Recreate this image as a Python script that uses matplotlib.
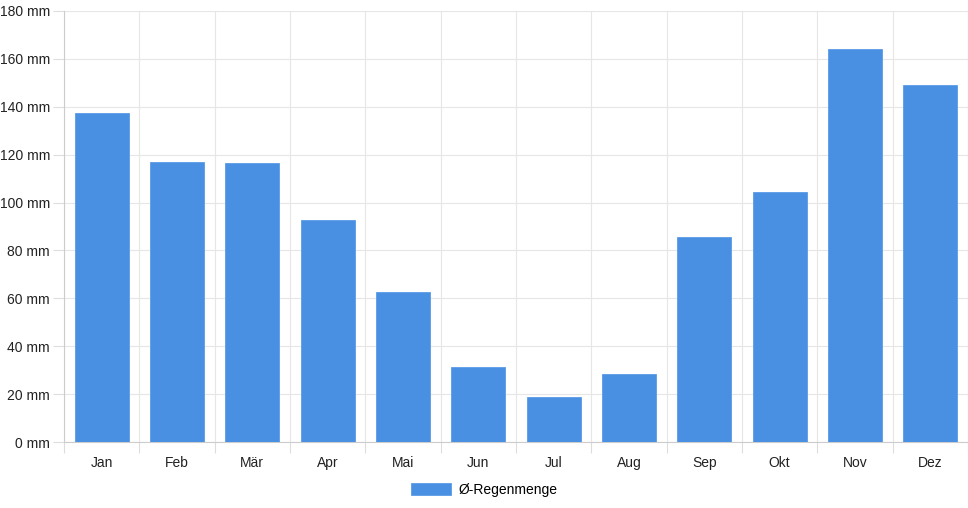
import matplotlib.pyplot as plt
import numpy as np
from matplotlib.ticker import FixedLocator

months = ["Jan", "Feb", "Mär", "Apr", "Mai", "Jun", "Jul", "Aug", "Sep", "Okt", "Nov", "Dez"]
rain_mm = [137.5, 117, 116.5, 92.7, 62.7, 31.2, 18.6, 28.5, 85.6, 104.5, 164.2, 149.1]
y_ticks = list(range(0, 181, 20))
series_label = "Ø-Regenmenge"

plt.rcParams["font.family"] = ["Liberation Sans", "DejaVu Sans"]

fig = plt.figure(figsize=(9.68, 5.08), dpi=100)
ax = fig.add_axes([64 / 968, 66 / 508, 904 / 968, 431 / 508])

x = np.arange(len(months))
ax.bar(x, rain_mm, width=0.72, color="#4a90e2", edgecolor="#5b9be6", linewidth=0.6,
       label=series_label, zorder=3)

ax.set_xlim(-0.5, len(months) - 0.5)
ax.set_ylim(0, 180)

ax.set_xticks(x)
ax.set_xticklabels(months, fontsize=10, color="#222222")
ax.tick_params(axis="x", which="major", length=0, pad=10)
ax.xaxis.set_minor_locator(FixedLocator(np.arange(-0.5, len(months), 1.0)))
ax.tick_params(axis="x", which="minor", length=8, color="#dddddd", width=0.8)

ax.set_yticks(y_ticks)
ax.set_yticklabels([f"{v} mm" for v in y_ticks], fontsize=10, color="#222222")
ax.tick_params(axis="y", length=8, color="#dddddd", width=0.8, pad=2)

ax.grid(True, which="minor", axis="x", color="#e6e6e6", linewidth=0.8, zorder=0)
ax.grid(True, which="major", axis="y", color="#e6e6e6", linewidth=0.8, zorder=0)

for side in ["top", "right"]:
    ax.spines[side].set_visible(False)
for side in ["left", "bottom"]:
    ax.spines[side].set_color("#cccccc")
    ax.spines[side].set_linewidth(0.8)

fig.legend(loc="center", bbox_to_anchor=(484 / 968, 1 - 490 / 508), frameon=False,
           fontsize=10, handlelength=2.9, handleheight=1.0, handletextpad=0.5)

fig.savefig("out.png", dpi=100)
